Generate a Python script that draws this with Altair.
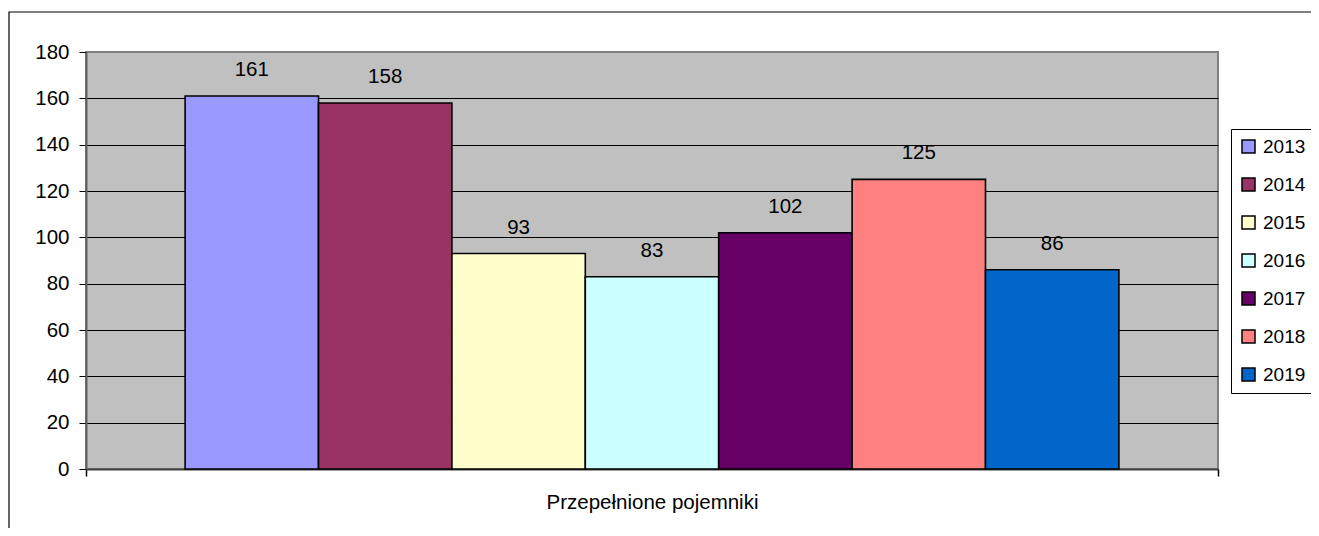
import altair as alt
import pandas as pd

years = ["2013", "2014", "2015", "2016", "2017", "2018", "2019"]
values = [161, 158, 93, 83, 102, 125, 86]
colors = ["#9999FF", "#993366", "#FFFFCC", "#CCFFFF", "#660066", "#FF8080", "#0066CC"]
category = "Przepełnione pojemniki"
y_ticks = [0, 20, 40, 60, 80, 100, 120, 140, 160, 180]

df = pd.DataFrame({"year": years, "value": values, "cat": [category] * len(years)})

FONT = "Liberation Sans"
FS = 20.5

x_enc = alt.X(
    "cat:N",
    scale=alt.Scale(paddingInner=0, paddingOuter=0),
    axis=alt.Axis(
        title=None, labelAngle=0, tickBand="extent", ticks=True, tickSize=7,
        tickColor="black", tickWidth=1.5, labelPadding=16, labelFontSize=FS,
        labelFont=FONT, labelColor="black", labelLimit=0,
        domainColor="#404040", domainWidth=2,
    ),
)
xoff_enc = alt.XOffset("year:N", scale=alt.Scale(paddingInner=0, paddingOuter=0.743))
y_enc = alt.Y(
    "value:Q",
    scale=alt.Scale(domain=[0, 180], nice=False),
    axis=alt.Axis(
        values=y_ticks, title=None, tickSize=7, tickColor="black", tickWidth=1,
        labelPadding=10, labelFontSize=FS, labelFont=FONT, labelColor="black",
        domainColor="#606060", domainWidth=2,
        grid=True, gridWidth=1,
        gridColor={"condition": {"test": "datum.value >= 180", "value": "#808080"}, "value": "black"},
    ),
)

bars = alt.Chart(df).mark_bar(stroke="black", strokeWidth=1.6).encode(
    x=x_enc,
    xOffset=xoff_enc,
    y=y_enc,
    color=alt.Color(
        "year:N",
        scale=alt.Scale(domain=years, range=colors),
        legend=alt.Legend(
            title=None, orient="none", legendX=1145, legendY=77,
            symbolType="square", symbolSize=169, symbolStrokeColor="black",
            symbolStrokeWidth=1.5, symbolOpacity=1,
            labelFontSize=19, labelFont=FONT, labelColor="black", labelOffset=5,
            rowPadding=18, padding=8, strokeColor="black", fillColor="white",
        ),
    ),
)

labels = alt.Chart(df).mark_text(
    baseline="alphabetic", dy=-20, fontSize=FS, font=FONT, color="black"
).encode(
    x=x_enc,
    xOffset=xoff_enc,
    y=y_enc,
    text=alt.Text("value:Q"),
)

border = alt.Chart(pd.DataFrame({"k": [0]})).mark_rect(
    filled=False, stroke="black", strokeWidth=1.2
).encode(
    x=alt.value(-77), x2=alt.value(1400), y=alt.value(-40), y2=alt.value(700)
)

chart = alt.layer(border, bars, labels).properties(
    width=1132,
    height=417,
    autosize=alt.AutoSizeParams(type="none"),
    padding={"left": 78, "top": 44, "right": 93, "bottom": 59},
    background="white",
).configure_view(
    fill="#C0C0C0", stroke="#808080", strokeWidth=2
)

chart.save("out.html", embed_options={"renderer": "svg", "actions": False})
